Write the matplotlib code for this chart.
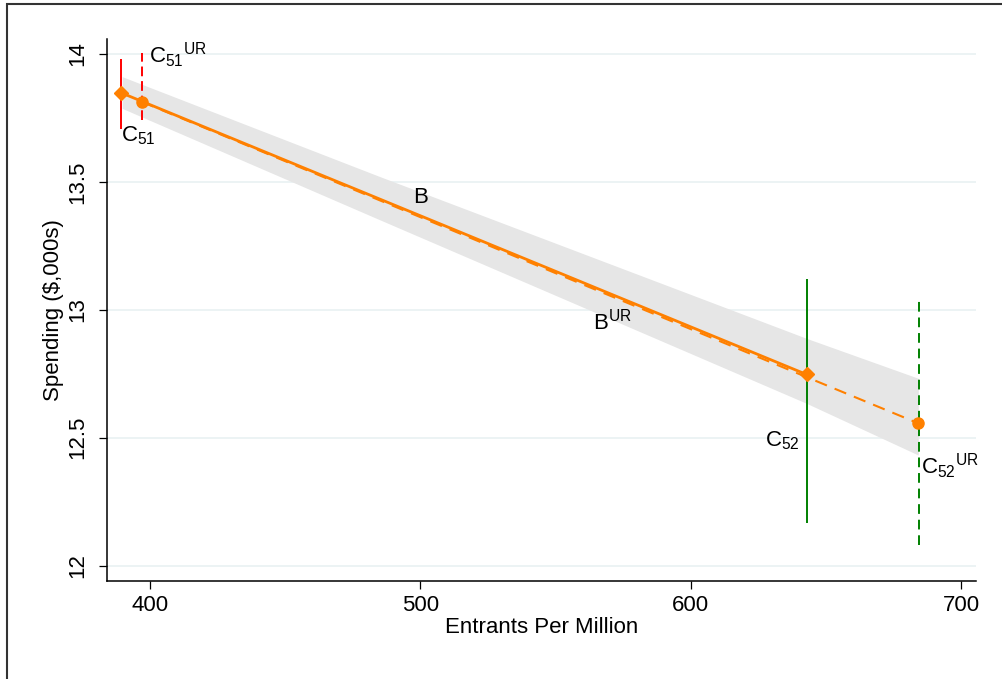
import matplotlib
matplotlib.use("Agg")
import matplotlib.pyplot as plt
from matplotlib.patches import Rectangle

plt.rcParams['font.family'] = ['Liberation Sans', 'DejaVu Sans']
plt.rcParams['mathtext.default'] = 'regular'

# confidence band
band_x = [389.8, 485.2, 642.9, 684.2]
band_lo = [13.787, 13.351, 12.634, 12.432]
band_hi = [13.911, 13.520, 12.888, 12.732]

# B line (C51 -> C52) and B^UR line (C51^UR -> C52^UR)
b_x = [389.4, 642.9]
b_y = [13.848, 12.747]
bur_x = [397.0, 684.2]
bur_y = [13.813, 12.556]

# vertical segments: x, ymin, ymax
c51 = (389.4, 13.706, 13.980)
c51_ur = (397.0, 13.741, 14.002)
c52 = (642.9, 12.165, 13.120)
c52_ur = (684.6, 12.080, 13.035)

# labels: text, x, baseline y
labels = [
    ("C$_{51}$", 389.4, 13.657),
    ("C$_{51}{}^{UR}$", 399.8, 13.963),
    ("B", 497.5, 13.416),
    ("B$^{UR}$", 564.0, 12.921),
    ("C$_{52}$", 627.5, 12.464),
    ("C$_{52}{}^{UR}$", 685.2, 12.360),
]

xticks = [400, 500, 600, 700]
yticks = [12, 12.5, 13, 13.5, 14]
yticklabels = ['12', '12.5', '13', '13.5', '14']

orange = '#ff8000'
red = '#ff0000'
green = '#008000'

fig = plt.figure(figsize=(10.02, 6.79), dpi=100)
ax = fig.add_axes([0.1071, 0.1448, 0.8666, 0.7973])

for yv in yticks:
    ax.axhline(yv, color='#eaf2f3', lw=1.3, zorder=0)

ax.fill_between(band_x, band_lo, band_hi, color='#e6e6e6', lw=0, zorder=1)

ax.plot(b_x, b_y, color=orange, lw=2.0, zorder=3)
ax.plot(bur_x, bur_y, color=orange, lw=1.5, ls=(0, (6, 4)), zorder=3)

ax.vlines(c51[0], c51[1], c51[2], color=red, lw=1.4, zorder=4)
ax.vlines(c51_ur[0], c51_ur[1], c51_ur[2], color=red, lw=1.4, linestyles=[(0, (5, 2.5))], zorder=4)
ax.vlines(c52[0], c52[1], c52[2], color=green, lw=1.4, zorder=4)
ax.vlines(c52_ur[0], c52_ur[1], c52_ur[2], color=green, lw=1.4, linestyles=[(0, (5, 3))], zorder=4)

ax.plot(b_x, b_y, 'D', color=orange, ms=7.5, zorder=5)
ax.plot(bur_x, bur_y, 'o', color=orange, ms=8, zorder=5)

for txt, x, y in labels:
    ax.text(x, y, txt, fontsize=16, ha='left', va='baseline', zorder=6)

ax.set_xlim(384.3, 705.4)
ax.set_ylim(11.941, 14.057)
ax.set_xticks(xticks)
ax.set_yticks(yticks)
ax.set_yticklabels(yticklabels, rotation=90, va='center')
ax.tick_params(axis='both', labelsize=16, length=6, width=0.9, color='black')
ax.tick_params(axis='y', pad=8)
ax.tick_params(axis='x', pad=4)
ax.spines['top'].set_visible(False)
ax.spines['right'].set_visible(False)
ax.spines['left'].set_linewidth(1.1)
ax.spines['bottom'].set_linewidth(1.1)

ax.set_xlabel('Entrants Per Million', fontsize=16, labelpad=1)
ax.set_ylabel('Spending (\\$,000s)', fontsize=16, labelpad=2)

# outer frame (partly cut off at right and bottom)
fig.patches.append(Rectangle((6.5 / 1002, -0.1), 1.2, 1 - 4 / 679 + 0.1,
                             transform=fig.transFigure, fill=False,
                             edgecolor='#333333', lw=1.5))

fig.savefig('out.png', dpi=100)
